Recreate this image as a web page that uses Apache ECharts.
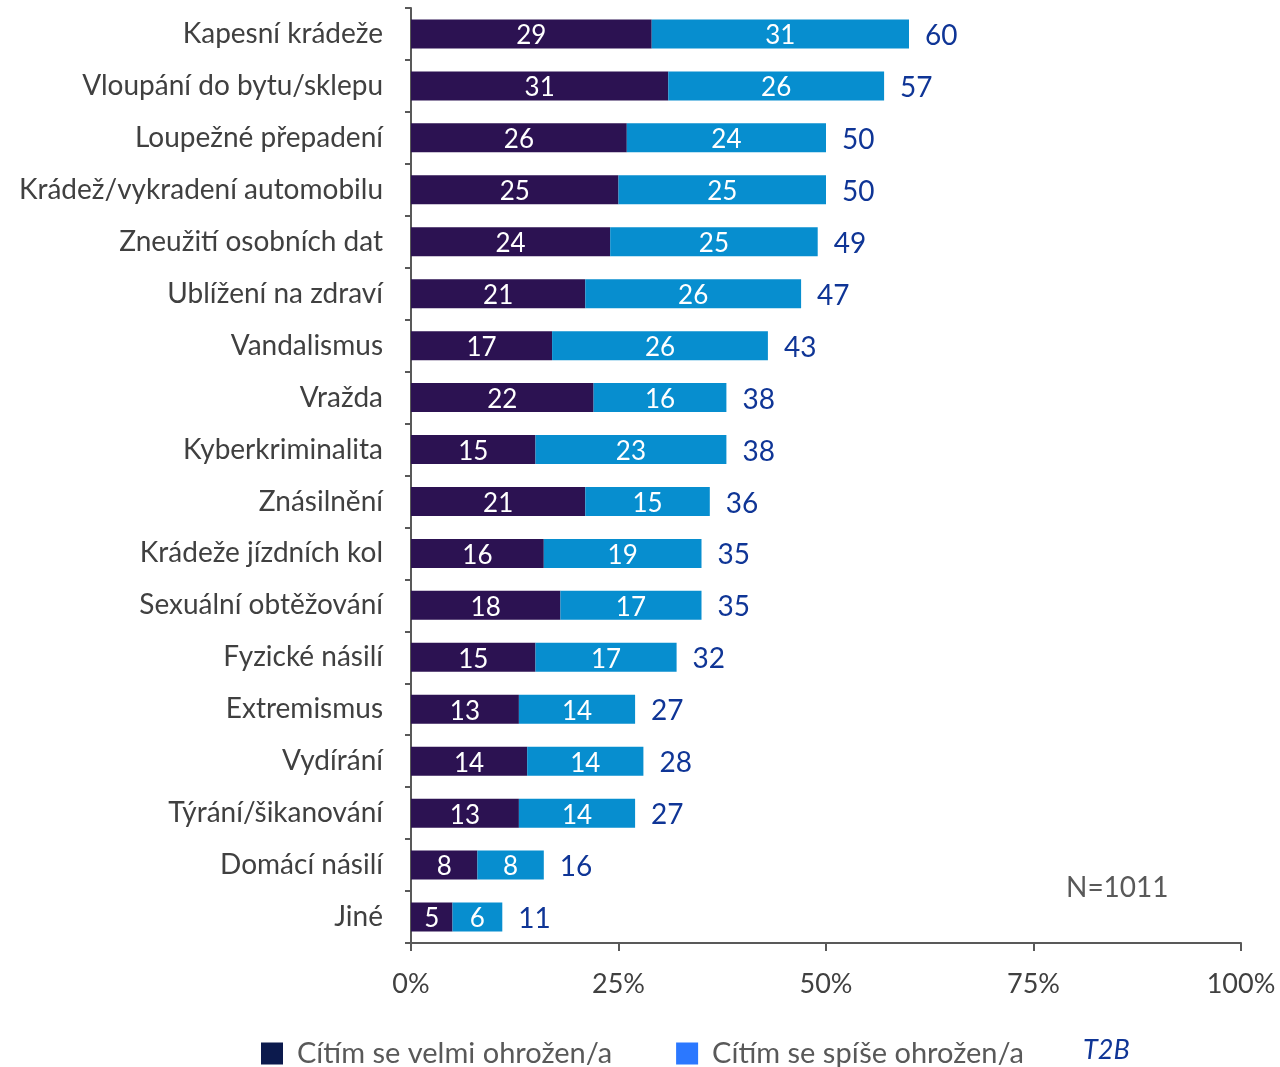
<!DOCTYPE html>
<html>
<head>
<meta charset="utf-8">
<script src="https://cdn.jsdelivr.net/npm/echarts@6/dist/echarts.min.js"></script>
<style>
  html, body { margin: 0; padding: 0; background: #fff; }
  #report { width: 1280px; height: 1067px; }
</style>
</head>
<body>
<div id="report"></div>
<script>
// kategorie a hodnoty (v %)
var categories = ["Kapesní krádeže", "Vloupání do bytu/sklepu", "Loupežné přepadení", "Krádež/vykradení automobilu",
  "Zneužití osobních dat", "Ublížení na zdraví", "Vandalismus", "Vražda", "Kyberkriminalita", "Znásilnění",
  "Krádeže jízdních kol", "Sexuální obtěžování", "Fyzické násilí", "Extremismus", "Vydírání", "Týrání/šikanování",
  "Domácí násilí", "Jiné"];
var velmi = [29, 31, 26, 25, 24, 21, 17, 22, 15, 21, 16, 18, 15, 13, 14, 13, 8, 5];
var spise = [31, 26, 24, 25, 25, 26, 26, 16, 23, 15, 19, 17, 17, 14, 14, 14, 8, 6];
var t2b = [60, 57, 50, 50, 49, 47, 43, 38, 38, 36, 35, 35, 32, 27, 28, 27, 16, 11];
var xTicks = [0, 25, 50, 75, 100];

var font = "Lato";
// ctverec legendy s mezerou vpravo
var legendIcon = "path://M0 0h22v22h-22z M30.9 10.9h0.1v0.1h-0.1z";
var myChart = echarts.init(document.getElementById("report"));

var option = {
    textStyle: { fontFamily: font },
    grid: { left: 411, right: 39, top: 8, bottom: 124, containLabel: false },
    legend: {
        left: 256,
        top: 1034,
        itemWidth: 31,
        itemHeight: 22,
        itemGap: 64,
        icon: legendIcon,
        textStyle: { fontSize: 29, color: "#595959", fontFamily: font },
        data: [
            { name: "Cítím se velmi ohrožen/a", itemStyle: { color: "#0c1a4d" } },
            { name: "Cítím se spíše ohrožen/a", itemStyle: { color: "#2b78ff" } }
        ]
    },
    xAxis: {
        type: "value",
        min: 0,
        max: 100,
        interval: 25,
        axisLine: { show: true, lineStyle: { color: "#595959", width: 2 } },
        axisTick: { show: true, length: 8, lineStyle: { color: "#595959", width: 2 } },
        splitLine: { show: false },
        axisLabel: {
            margin: 28,
            fontSize: 27,
            color: "#404040",
            formatter: function (v) { return xTicks.indexOf(v) >= 0 ? v + "%" : ""; }
        }
    },
    yAxis: {
        type: "category",
        inverse: true,
        data: categories,
        axisLine: { show: true, lineStyle: { color: "#595959", width: 2 } },
        axisTick: { show: true, length: 6, lineStyle: { color: "#595959", width: 2 } },
        axisLabel: { margin: 28, fontSize: 28, color: "#404040" }
    },
    series: [
        {
            name: "Cítím se velmi ohrožen/a",
            type: "bar",
            stack: "a",
            barWidth: 29,
            data: velmi,
            itemStyle: { color: "#2c1252" },
            label: { show: true, position: "inside", color: "#fff", fontSize: 26, offset: [0, 2] }
        },
        {
            name: "Cítím se spíše ohrožen/a",
            type: "bar",
            stack: "a",
            barWidth: 29,
            data: spise,
            itemStyle: { color: "#078ecf" },
            label: { show: true, position: "inside", color: "#fff", fontSize: 26, offset: [0, 2] }
        },
        {
            name: "T2B",
            type: "bar",
            stack: "a",
            barWidth: 29,
            data: t2b.map(function () { return 0; }),
            itemStyle: { color: "transparent" },
            label: {
                show: true,
                position: "right",
                distance: 16,
                color: "#0f3596",
                fontSize: 28,
                offset: [0, 2],
                formatter: function (p) { return t2b[p.dataIndex]; }
            }
        }
    ],
    graphic: [
        {
            type: "text",
            left: 1066,
            top: 874,
            style: { text: "N=1011", fontSize: 28, fill: "#595959", fontFamily: font }
        },
        {
            type: "text",
            left: 1083,
            top: 1037,
            style: { text: "T2B", fontSize: 27, fill: "#0f3596", fontStyle: "italic", fontFamily: font }
        }
    ]
};
myChart.setOption(option);
</script>
</body>
</html>
